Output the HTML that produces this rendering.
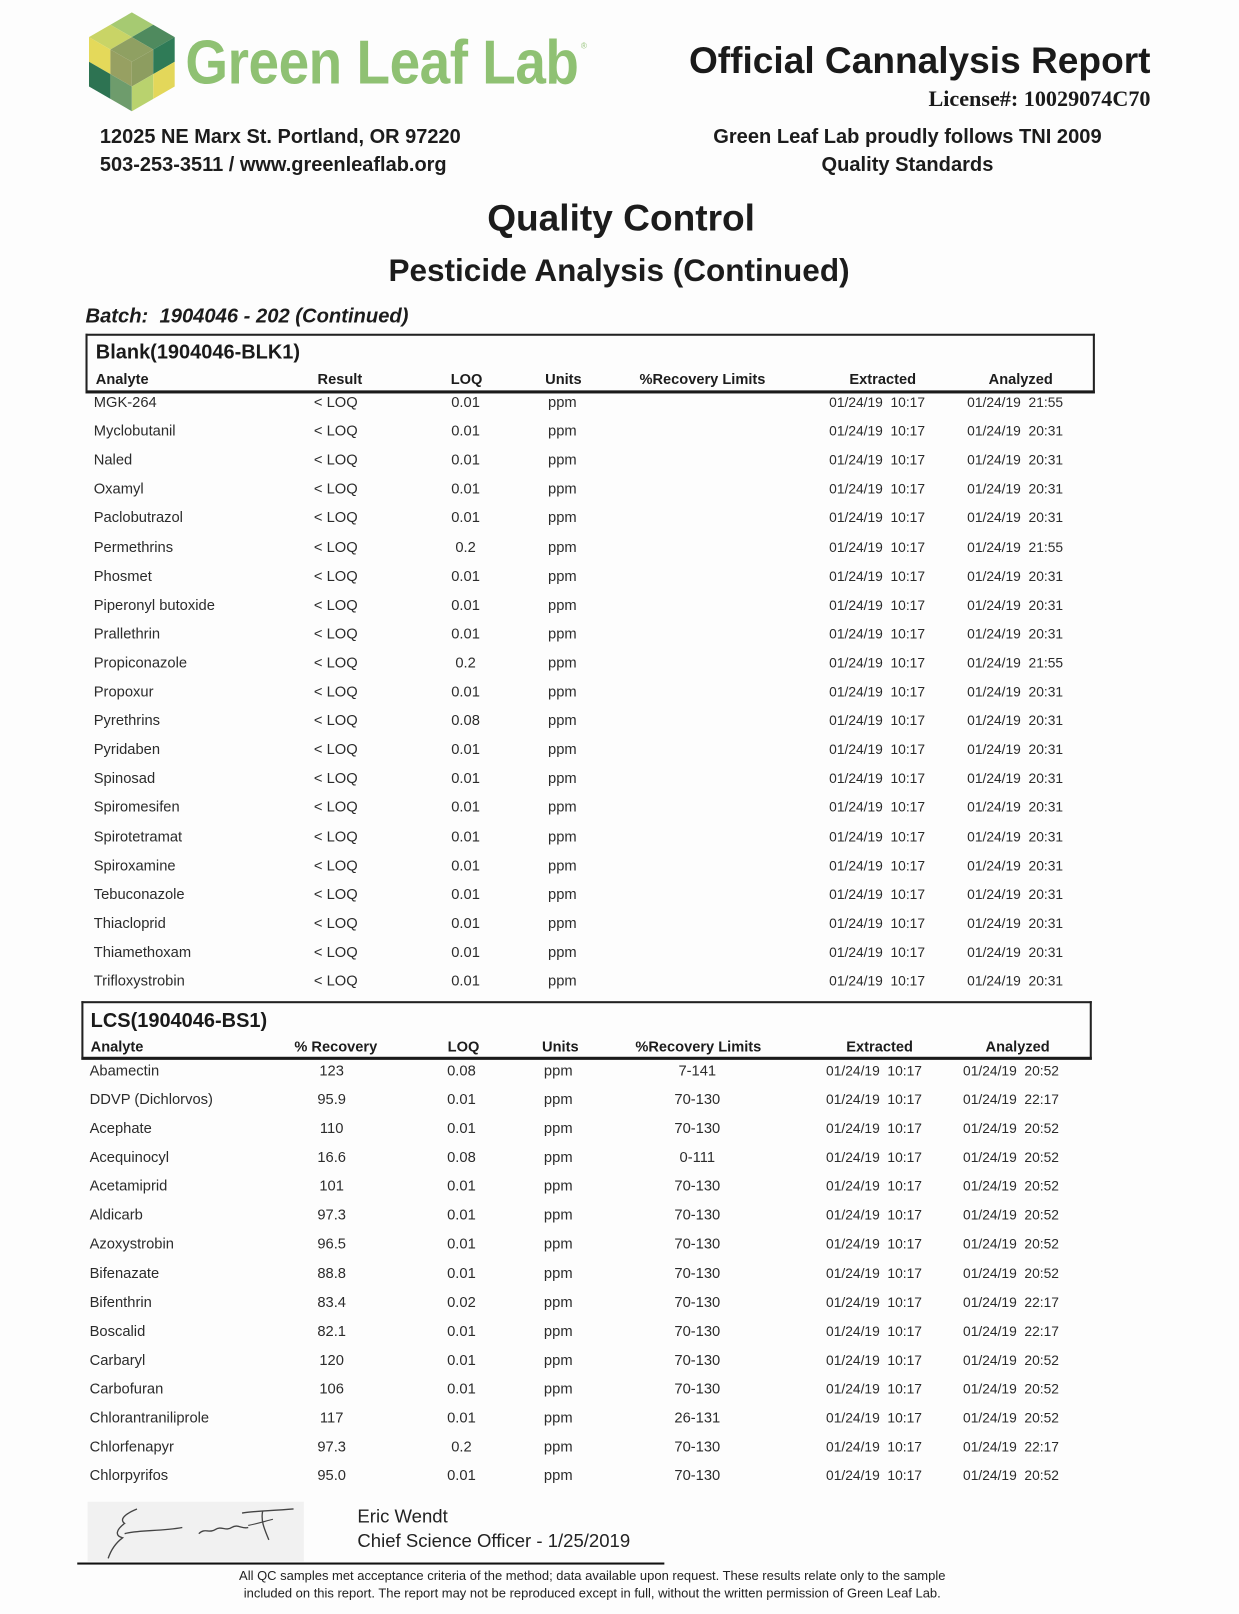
<!DOCTYPE html>
<html><head><meta charset="utf-8">
<style>
html,body{margin:0;padding:0;background:#fdfdfd;overflow:hidden;}
html{width:1239px;height:1614px;}
body{width:1239px;height:1614px;position:relative;font-family:"Liberation Sans",Arial,sans-serif;color:#1c1c1c;}
#w{position:absolute;left:0;top:0;width:1202px;height:1566px;overflow:hidden;transform:scale(1.03);transform-origin:0 0;}
.abs{position:absolute;white-space:nowrap;}
.row{position:absolute;left:0;width:1202px;height:20px;line-height:20px;font-size:14.3px;color:#2b2b2b;}
.row span{position:absolute;top:0;white-space:pre;}
.cc{width:140px;margin-left:-70px;text-align:center;}
.ba{left:91px}.br{left:326px}.bq{left:452px}.bu{left:546px}.be{left:805px;font-size:13.4px}.bz{left:939px;font-size:13.4px}
.la{left:87px}.lr{left:322px}.lq{left:448px}.lu{left:542px}.ll{left:677px}.le{left:802px;font-size:13.4px}.lz{left:935px;font-size:13.4px}
.hdr{font-weight:bold;font-size:14.2px;color:#1c1c1c;}
.box{position:absolute;border:2px solid #222;border-bottom:3px solid #1a1a1a;box-sizing:border-box;}
.ttl{position:absolute;font-weight:bold;font-size:19.4px;line-height:24px;height:24px;white-space:nowrap;color:#1a1a1a;}
</style></head><body>
<div id="w">

<!-- Logo -->
<svg class="abs" style="left:0;top:0" width="180" height="115" viewBox="0 0 180 115">
<polygon points="128,12 148.8,24 128,36 107.2,24" fill="#a6ca72"/>
<polygon points="107.2,24 128,36 107.2,48 86.4,36" fill="#c9d466"/>
<polygon points="148.8,24 169.6,36 148.8,48 128,36" fill="#4f8a5e"/>
<polygon points="128,36 148.8,48 128,60 107.2,48" fill="#8fa062"/>
<polygon points="86.4,36 107.2,48 107.2,72 86.4,60" fill="#e4d95a"/>
<polygon points="107.2,48 128,60 128,84 107.2,72" fill="#97a062"/>
<polygon points="86.4,60 107.2,72 107.2,96 86.4,84" fill="#2d7352"/>
<polygon points="107.2,72 128,84 128,108 107.2,96" fill="#6e9c6c"/>
<polygon points="128,60 148.8,48 148.8,72 128,84" fill="#8d9d60"/>
<polygon points="148.8,48 169.6,36 169.6,60 148.8,72" fill="#2f7b57"/>
<polygon points="128,84 148.8,72 148.8,96 128,108" fill="#b9d26e"/>
<polygon points="148.8,72 169.6,60 169.6,84 148.8,96" fill="#e3d75a"/>
</svg>
<div class="abs" style="left:180px;top:31px;font-size:60px;line-height:60px;font-weight:bold;color:#8fc173;transform:scaleX(0.888);transform-origin:0 0;letter-spacing:-0.5px;">Green Leaf Lab</div>
<div class="abs" style="left:564px;top:40px;font-size:8px;color:#9cc782;">®</div>

<div class="abs" style="right:85px;top:39px;font-size:36px;line-height:40px;font-weight:bold;color:#1a1a1a;">Official Cannalysis Report</div>
<div class="abs" style="right:85px;top:84px;font-size:21.5px;line-height:24px;font-weight:bold;font-family:'Liberation Serif',serif;color:#1a1a1a;">License#: 10029074C70</div>

<div class="abs" style="left:97px;top:121px;font-size:19.4px;line-height:24px;font-weight:bold;">12025 NE Marx St. Portland, OR 97220</div>
<div class="abs" style="left:97px;top:148px;font-size:19.4px;line-height:24px;font-weight:bold;">503-253-3511 / www.greenleaflab.org</div>
<div class="abs" style="left:631px;width:500px;text-align:center;top:121px;font-size:19.5px;line-height:24px;font-weight:bold;">Green Leaf Lab proudly follows TNI 2009</div>
<div class="abs" style="left:631px;width:500px;text-align:center;top:148px;font-size:19.5px;line-height:24px;font-weight:bold;">Quality Standards</div>

<div class="abs" style="left:303px;width:600px;text-align:center;top:190px;font-size:36px;line-height:44px;font-weight:bold;">Quality Control</div>
<div class="abs" style="left:301px;width:600px;text-align:center;top:245px;font-size:30.6px;line-height:36px;font-weight:bold;">Pesticide Analysis (Continued)</div>
<div class="abs" style="left:83px;top:295px;font-size:19.6px;line-height:24px;font-weight:bold;font-style:italic;">Batch:&nbsp; 1904046 - 202 (Continued)</div>

<!-- Blank table -->
<div class="box" style="left:83px;top:324px;width:980px;height:58px;"></div>
<div class="ttl" style="left:93px;top:330px;">Blank(1904046-BLK1)</div>
<div class="row hdr" style="top:359px">
<span style="left:93px">Analyte</span><span class="cc" style="left:330px">Result</span><span class="cc" style="left:453px">LOQ</span><span class="cc" style="left:547px">Units</span><span class="cc" style="left:682px">%Recovery Limits</span><span class="cc" style="left:857px">Extracted</span><span class="cc" style="left:991px">Analyzed</span>
</div>

<div class="row" style="top:381px"><span class="ba">MGK-264</span><span class="br cc">&lt; LOQ</span><span class="bq cc">0.01</span><span class="bu cc">ppm</span><span class="be">01/24/19  10:17</span><span class="bz">01/24/19  21:55</span></div>
<div class="row" style="top:409px"><span class="ba">Myclobutanil</span><span class="br cc">&lt; LOQ</span><span class="bq cc">0.01</span><span class="bu cc">ppm</span><span class="be">01/24/19  10:17</span><span class="bz">01/24/19  20:31</span></div>
<div class="row" style="top:437px"><span class="ba">Naled</span><span class="br cc">&lt; LOQ</span><span class="bq cc">0.01</span><span class="bu cc">ppm</span><span class="be">01/24/19  10:17</span><span class="bz">01/24/19  20:31</span></div>
<div class="row" style="top:465px"><span class="ba">Oxamyl</span><span class="br cc">&lt; LOQ</span><span class="bq cc">0.01</span><span class="bu cc">ppm</span><span class="be">01/24/19  10:17</span><span class="bz">01/24/19  20:31</span></div>
<div class="row" style="top:493px"><span class="ba">Paclobutrazol</span><span class="br cc">&lt; LOQ</span><span class="bq cc">0.01</span><span class="bu cc">ppm</span><span class="be">01/24/19  10:17</span><span class="bz">01/24/19  20:31</span></div>
<div class="row" style="top:522px"><span class="ba">Permethrins</span><span class="br cc">&lt; LOQ</span><span class="bq cc">0.2</span><span class="bu cc">ppm</span><span class="be">01/24/19  10:17</span><span class="bz">01/24/19  21:55</span></div>
<div class="row" style="top:550px"><span class="ba">Phosmet</span><span class="br cc">&lt; LOQ</span><span class="bq cc">0.01</span><span class="bu cc">ppm</span><span class="be">01/24/19  10:17</span><span class="bz">01/24/19  20:31</span></div>
<div class="row" style="top:578px"><span class="ba">Piperonyl butoxide</span><span class="br cc">&lt; LOQ</span><span class="bq cc">0.01</span><span class="bu cc">ppm</span><span class="be">01/24/19  10:17</span><span class="bz">01/24/19  20:31</span></div>
<div class="row" style="top:606px"><span class="ba">Prallethrin</span><span class="br cc">&lt; LOQ</span><span class="bq cc">0.01</span><span class="bu cc">ppm</span><span class="be">01/24/19  10:17</span><span class="bz">01/24/19  20:31</span></div>
<div class="row" style="top:634px"><span class="ba">Propiconazole</span><span class="br cc">&lt; LOQ</span><span class="bq cc">0.2</span><span class="bu cc">ppm</span><span class="be">01/24/19  10:17</span><span class="bz">01/24/19  21:55</span></div>
<div class="row" style="top:662px"><span class="ba">Propoxur</span><span class="br cc">&lt; LOQ</span><span class="bq cc">0.01</span><span class="bu cc">ppm</span><span class="be">01/24/19  10:17</span><span class="bz">01/24/19  20:31</span></div>
<div class="row" style="top:690px"><span class="ba">Pyrethrins</span><span class="br cc">&lt; LOQ</span><span class="bq cc">0.08</span><span class="bu cc">ppm</span><span class="be">01/24/19  10:17</span><span class="bz">01/24/19  20:31</span></div>
<div class="row" style="top:718px"><span class="ba">Pyridaben</span><span class="br cc">&lt; LOQ</span><span class="bq cc">0.01</span><span class="bu cc">ppm</span><span class="be">01/24/19  10:17</span><span class="bz">01/24/19  20:31</span></div>
<div class="row" style="top:746px"><span class="ba">Spinosad</span><span class="br cc">&lt; LOQ</span><span class="bq cc">0.01</span><span class="bu cc">ppm</span><span class="be">01/24/19  10:17</span><span class="bz">01/24/19  20:31</span></div>
<div class="row" style="top:774px"><span class="ba">Spiromesifen</span><span class="br cc">&lt; LOQ</span><span class="bq cc">0.01</span><span class="bu cc">ppm</span><span class="be">01/24/19  10:17</span><span class="bz">01/24/19  20:31</span></div>
<div class="row" style="top:803px"><span class="ba">Spirotetramat</span><span class="br cc">&lt; LOQ</span><span class="bq cc">0.01</span><span class="bu cc">ppm</span><span class="be">01/24/19  10:17</span><span class="bz">01/24/19  20:31</span></div>
<div class="row" style="top:831px"><span class="ba">Spiroxamine</span><span class="br cc">&lt; LOQ</span><span class="bq cc">0.01</span><span class="bu cc">ppm</span><span class="be">01/24/19  10:17</span><span class="bz">01/24/19  20:31</span></div>
<div class="row" style="top:859px"><span class="ba">Tebuconazole</span><span class="br cc">&lt; LOQ</span><span class="bq cc">0.01</span><span class="bu cc">ppm</span><span class="be">01/24/19  10:17</span><span class="bz">01/24/19  20:31</span></div>
<div class="row" style="top:887px"><span class="ba">Thiacloprid</span><span class="br cc">&lt; LOQ</span><span class="bq cc">0.01</span><span class="bu cc">ppm</span><span class="be">01/24/19  10:17</span><span class="bz">01/24/19  20:31</span></div>
<div class="row" style="top:915px"><span class="ba">Thiamethoxam</span><span class="br cc">&lt; LOQ</span><span class="bq cc">0.01</span><span class="bu cc">ppm</span><span class="be">01/24/19  10:17</span><span class="bz">01/24/19  20:31</span></div>
<div class="row" style="top:943px"><span class="ba">Trifloxystrobin</span><span class="br cc">&lt; LOQ</span><span class="bq cc">0.01</span><span class="bu cc">ppm</span><span class="be">01/24/19  10:17</span><span class="bz">01/24/19  20:31</span></div>

<!-- LCS table -->
<div class="box" style="left:79px;top:972px;width:981px;height:57px;"></div>
<div class="ttl" style="left:88px;top:979px;">LCS(1904046-BS1)</div>
<div class="row hdr" style="top:1007px">
<span style="left:88px">Analyte</span><span class="cc" style="left:326px">% Recovery</span><span class="cc" style="left:450px">LOQ</span><span class="cc" style="left:544px">Units</span><span class="cc" style="left:678px">%Recovery Limits</span><span class="cc" style="left:854px">Extracted</span><span class="cc" style="left:988px">Analyzed</span>
</div>

<div class="row" style="top:1030px"><span class="la">Abamectin</span><span class="lr cc">123</span><span class="lq cc">0.08</span><span class="lu cc">ppm</span><span class="ll cc">7-141</span><span class="le">01/24/19  10:17</span><span class="lz">01/24/19  20:52</span></div>
<div class="row" style="top:1058px"><span class="la">DDVP (Dichlorvos)</span><span class="lr cc">95.9</span><span class="lq cc">0.01</span><span class="lu cc">ppm</span><span class="ll cc">70-130</span><span class="le">01/24/19  10:17</span><span class="lz">01/24/19  22:17</span></div>
<div class="row" style="top:1086px"><span class="la">Acephate</span><span class="lr cc">110</span><span class="lq cc">0.01</span><span class="lu cc">ppm</span><span class="ll cc">70-130</span><span class="le">01/24/19  10:17</span><span class="lz">01/24/19  20:52</span></div>
<div class="row" style="top:1114px"><span class="la">Acequinocyl</span><span class="lr cc">16.6</span><span class="lq cc">0.08</span><span class="lu cc">ppm</span><span class="ll cc">0-111</span><span class="le">01/24/19  10:17</span><span class="lz">01/24/19  20:52</span></div>
<div class="row" style="top:1142px"><span class="la">Acetamiprid</span><span class="lr cc">101</span><span class="lq cc">0.01</span><span class="lu cc">ppm</span><span class="ll cc">70-130</span><span class="le">01/24/19  10:17</span><span class="lz">01/24/19  20:52</span></div>
<div class="row" style="top:1170px"><span class="la">Aldicarb</span><span class="lr cc">97.3</span><span class="lq cc">0.01</span><span class="lu cc">ppm</span><span class="ll cc">70-130</span><span class="le">01/24/19  10:17</span><span class="lz">01/24/19  20:52</span></div>
<div class="row" style="top:1198px"><span class="la">Azoxystrobin</span><span class="lr cc">96.5</span><span class="lq cc">0.01</span><span class="lu cc">ppm</span><span class="ll cc">70-130</span><span class="le">01/24/19  10:17</span><span class="lz">01/24/19  20:52</span></div>
<div class="row" style="top:1227px"><span class="la">Bifenazate</span><span class="lr cc">88.8</span><span class="lq cc">0.01</span><span class="lu cc">ppm</span><span class="ll cc">70-130</span><span class="le">01/24/19  10:17</span><span class="lz">01/24/19  20:52</span></div>
<div class="row" style="top:1255px"><span class="la">Bifenthrin</span><span class="lr cc">83.4</span><span class="lq cc">0.02</span><span class="lu cc">ppm</span><span class="ll cc">70-130</span><span class="le">01/24/19  10:17</span><span class="lz">01/24/19  22:17</span></div>
<div class="row" style="top:1283px"><span class="la">Boscalid</span><span class="lr cc">82.1</span><span class="lq cc">0.01</span><span class="lu cc">ppm</span><span class="ll cc">70-130</span><span class="le">01/24/19  10:17</span><span class="lz">01/24/19  22:17</span></div>
<div class="row" style="top:1311px"><span class="la">Carbaryl</span><span class="lr cc">120</span><span class="lq cc">0.01</span><span class="lu cc">ppm</span><span class="ll cc">70-130</span><span class="le">01/24/19  10:17</span><span class="lz">01/24/19  20:52</span></div>
<div class="row" style="top:1339px"><span class="la">Carbofuran</span><span class="lr cc">106</span><span class="lq cc">0.01</span><span class="lu cc">ppm</span><span class="ll cc">70-130</span><span class="le">01/24/19  10:17</span><span class="lz">01/24/19  20:52</span></div>
<div class="row" style="top:1367px"><span class="la">Chlorantraniliprole</span><span class="lr cc">117</span><span class="lq cc">0.01</span><span class="lu cc">ppm</span><span class="ll cc">26-131</span><span class="le">01/24/19  10:17</span><span class="lz">01/24/19  20:52</span></div>
<div class="row" style="top:1395px"><span class="la">Chlorfenapyr</span><span class="lr cc">97.3</span><span class="lq cc">0.2</span><span class="lu cc">ppm</span><span class="ll cc">70-130</span><span class="le">01/24/19  10:17</span><span class="lz">01/24/19  22:17</span></div>
<div class="row" style="top:1423px"><span class="la">Chlorpyrifos</span><span class="lr cc">95.0</span><span class="lq cc">0.01</span><span class="lu cc">ppm</span><span class="ll cc">70-130</span><span class="le">01/24/19  10:17</span><span class="lz">01/24/19  20:52</span></div>

<!-- Signature -->
<div class="abs" style="left:85px;top:1458px;width:210px;height:58px;background:#f1f1f1;"></div>
<svg class="abs" style="left:85px;top:1455px" width="210" height="62" viewBox="0 0 210 62">
<path d="M48,10 C38,14 30,20 36,24 C28,30 26,36 34,38 C26,44 22,52 20,58" fill="none" stroke="#444" stroke-width="1.3"/>
<path d="M36,34 C50,30 70,32 92,28" fill="none" stroke="#444" stroke-width="1.3"/>
<path d="M108,34 C114,28 118,34 124,30 C130,26 134,32 140,28 C146,24 150,30 156,28" fill="none" stroke="#444" stroke-width="1.3"/>
<path d="M150,14 C160,12 176,12 200,10" fill="none" stroke="#444" stroke-width="1.3"/>
<path d="M170,12 C168,22 172,30 176,40" fill="none" stroke="#444" stroke-width="1.3"/>
<path d="M156,26 C166,24 172,22 180,20" fill="none" stroke="#444" stroke-width="1.1"/>
</svg>
<div class="abs" style="left:347px;top:1461px;font-size:18px;line-height:22px;color:#222;">Eric Wendt</div>
<div class="abs" style="left:347px;top:1485px;font-size:18px;line-height:22px;color:#222;">Chief Science Officer - 1/25/2019</div>
<div class="abs" style="left:75px;top:1517px;width:570px;height:2px;background:#111;"></div>

<div class="abs" style="left:175px;width:800px;text-align:center;top:1523px;font-size:12.6px;line-height:14px;color:#222;">All QC samples met acceptance criteria of the method; data available upon request. These results relate only to the sample</div>
<div class="abs" style="left:175px;width:800px;text-align:center;top:1540px;font-size:12.6px;line-height:14px;color:#222;">included on this report. The report may not be reproduced except in full, without the written permission of Green Leaf Lab.</div>

</div>
</body></html>
